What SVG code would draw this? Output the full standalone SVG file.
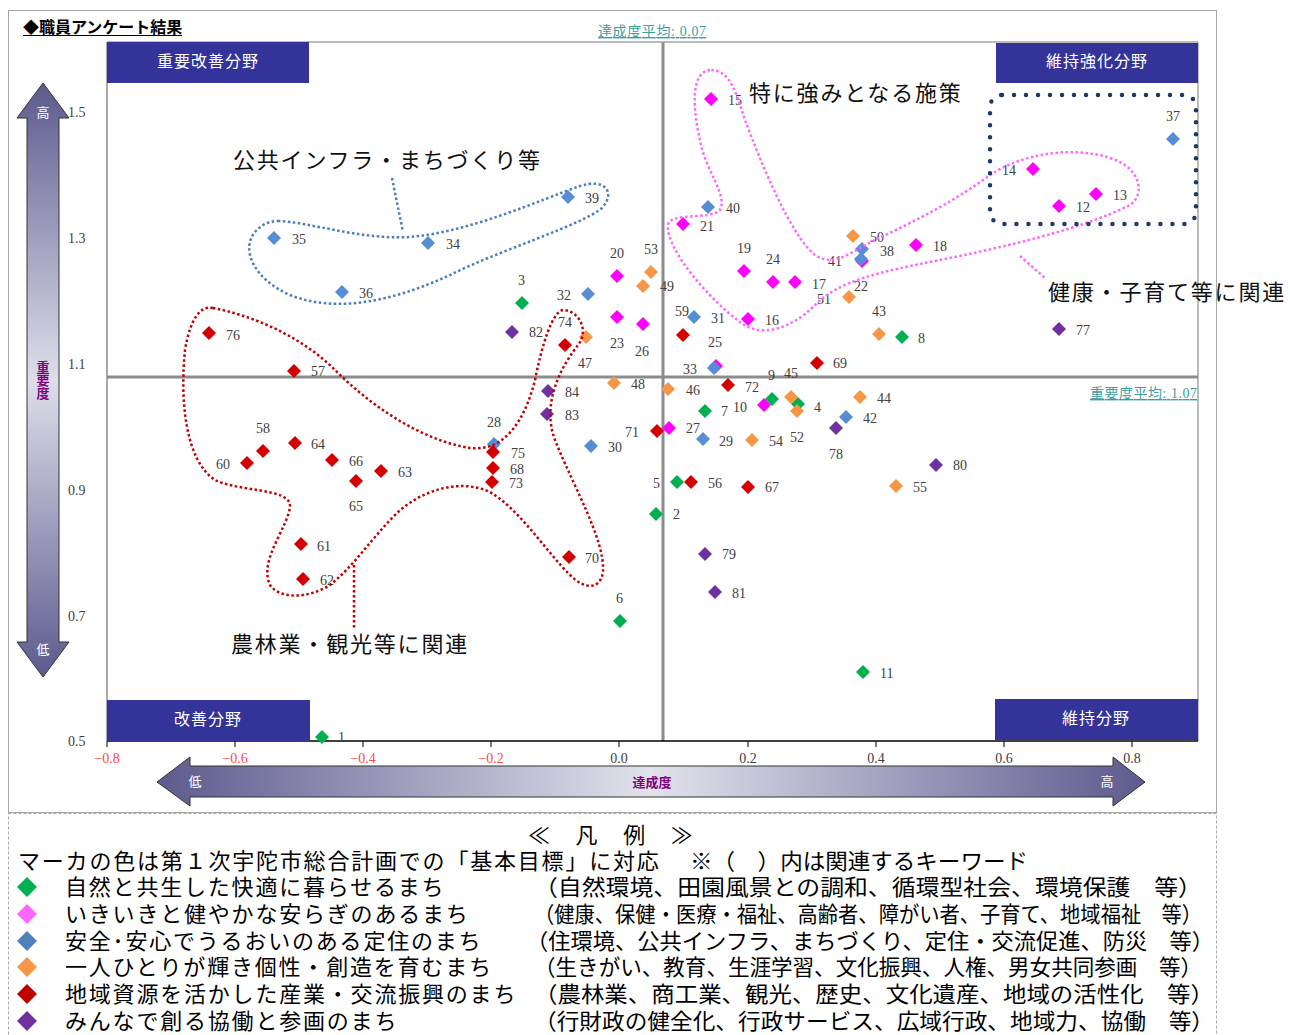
<svg xmlns="http://www.w3.org/2000/svg" xmlns:xlink="http://www.w3.org/1999/xlink" width="1290" height="1035" viewBox="0 0 1290 1035">
<defs>
<path id="d" d="M0,-7 L7,0 L0,7 L-7,0Z"/>
<path id="D" d="M0,-10 L10,0 L0,10 L-10,0Z"/>
<linearGradient id="gv" x1="0" y1="83" x2="0" y2="677" gradientUnits="userSpaceOnUse">
<stop offset="0" stop-color="#5d5a8e"/><stop offset="0.5" stop-color="#dedeea"/><stop offset="1" stop-color="#5d5a8e"/>
</linearGradient>
<linearGradient id="gh" x1="157" y1="0" x2="1145" y2="0" gradientUnits="userSpaceOnUse">
<stop offset="0" stop-color="#5d5a8e"/><stop offset="0.5" stop-color="#e2e2ec"/><stop offset="1" stop-color="#5d5a8e"/>
</linearGradient>
</defs>
<style>
.g{fill:#00b050}.m{fill:#ff00ff}.b{fill:#558ed5}.o{fill:#f79646}.r{fill:#d40000}.p{fill:#7030a0}
.lb{font-family:"Liberation Serif",serif;font-size:14px;fill:#404040}
.tk{font-family:"Liberation Serif",serif;font-size:14px;fill:#404040}
.tn{font-family:"Liberation Serif",serif;font-size:14px;fill:#ff4a4a}
.jp{font-family:"Noto Sans CJK JP","Noto Sans",sans-serif}
.ann{font-family:"Noto Sans CJK JP",sans-serif;font-size:22px;letter-spacing:1.8px;fill:#111}
.qb{fill:#333399}
.qt{font-family:"Noto Sans CJK JP",sans-serif;font-size:16px;fill:#fff;letter-spacing:1px;text-anchor:middle}
.avg{font-family:"Liberation Serif","Noto Sans CJK JP",serif;font-size:14px;fill:#3a9f9f;text-decoration:underline}
.lg{font-family:"Noto Sans CJK JP",sans-serif;font-size:22px;letter-spacing:1.8px;fill:#000}
.lk{font-family:"Noto Sans CJK JP",sans-serif;font-size:22px;fill:#000}
.dot{fill:none;stroke-width:2.5;stroke-dasharray:2.5 2.5}
</style>
<rect width="1290" height="1035" fill="#fff"/>
<!-- frames -->
<rect x="8.5" y="10.5" width="1208" height="802" fill="none" stroke="#a6a6a6" stroke-width="1"/>
<rect x="8.5" y="813.5" width="1208" height="240" fill="none" stroke="#a6a6a6" stroke-width="1" stroke-dasharray="3 2"/>
<text x="23" y="33" class="jp" font-size="16" font-weight="bold" fill="#000">◆職員アンケート結果</text>
<line x1="23" y1="35.5" x2="182" y2="35.5" stroke="#000" stroke-width="1.2"/>
<!-- plot area -->
<g id="plot">
<line x1="107" y1="42" x2="1198" y2="42" stroke="#a6a6a6" stroke-width="1.5"/>
<line x1="1198" y1="42" x2="1198" y2="741" stroke="#a6a6a6" stroke-width="1.5"/>
<line x1="107" y1="42" x2="107" y2="741" stroke="#8c8c8c" stroke-width="1.5"/>
<line x1="107" y1="377" x2="1198" y2="377" stroke="#8c8c8c" stroke-width="3"/>
<line x1="663" y1="42" x2="663" y2="741" stroke="#8c8c8c" stroke-width="3"/>
<line x1="107" y1="741" x2="1198" y2="741" stroke="#000" stroke-width="1.5"/>
<path d="M107,741v6M235,741v6M363,741v6M491,741v6M619,741v6M748,741v6M876,741v6M1004,741v6M1132,741v6" stroke="#000" stroke-width="1"/>
</g>
<g id="yticks" class="tk">
<text x="68" y="117">1.5</text><text x="68" y="243">1.3</text><text x="68" y="369">1.1</text>
<text x="68" y="495">0.9</text><text x="68" y="621">0.7</text><text x="68" y="746">0.5</text>
</g>
<g id="xticks" text-anchor="middle">
<text class="tn" x="107" y="763">−0.8</text><text class="tn" x="235" y="763">−0.6</text><text class="tn" x="363" y="763">−0.4</text><text class="tn" x="491" y="763">−0.2</text>
<text class="tk" x="619" y="763">0.0</text><text class="tk" x="748" y="763">0.2</text><text class="tk" x="876" y="763">0.4</text><text class="tk" x="1004" y="763">0.6</text><text class="tk" x="1132" y="763">0.8</text>
</g>
<text class="avg" x="598" y="36" textLength="108" lengthAdjust="spacing">達成度平均: 0.07</text>
<text class="avg" x="1090" y="398" textLength="107" lengthAdjust="spacing">重要度平均: 1.07</text>
<!-- arrows -->
<g id="arrowV">
<polygon points="43,83 69,118 59,118 59,642 69,642 43,677 17,642 27,642 27,118 17,118" fill="url(#gv)" stroke="#333" stroke-width="1"/>
<text x="43" y="117" class="jp" font-size="13" fill="#fff" text-anchor="middle">高</text>
<text x="43" y="654" class="jp" font-size="13" fill="#fff" text-anchor="middle">低</text>
<text x="43" y="380" class="jp" font-size="13" font-weight="bold" fill="#800080" text-anchor="middle" style="writing-mode:vertical-rl">重要度</text>
</g>
<g id="arrowH">
<polygon points="157,782 190,757 190,766 1113,766 1113,757 1145,782 1113,806 1113,797 190,797 190,806" fill="url(#gh)" stroke="#333" stroke-width="1"/>
<text x="195" y="786" class="jp" font-size="13" fill="#fff" text-anchor="middle">低</text>
<text x="1107" y="786" class="jp" font-size="13" fill="#fff" text-anchor="middle">高</text>
<text x="652" y="787" class="jp" font-size="13" font-weight="bold" fill="#800080" text-anchor="middle">達成度</text>
</g>
<!-- quadrant boxes -->
<g id="q1"><rect class="qb" x="107" y="42" width="202" height="41"/><text class="qt" x="208" y="67">重要改善分野</text></g>
<g id="q2"><rect class="qb" x="996" y="43" width="202" height="40"/><text class="qt" x="1097" y="67">維持強化分野</text></g>
<g id="q3"><rect class="qb" x="107" y="700" width="203" height="41"/><text class="qt" x="208" y="725">改善分野</text></g>
<g id="q4"><rect class="qb" x="995" y="699" width="203" height="41"/><text class="qt" x="1096" y="724">維持分野</text></g>
<!-- points -->
<g id="points">
<g id="p1"><use href="#d" x="322" y="737" class="g"/><text class="lb" x="338" y="742">1</text></g>
<g id="p2"><use href="#d" x="656" y="514" class="g"/><text class="lb" x="673" y="519">2</text></g>
<g id="p3"><use href="#d" x="522" y="303" class="g"/><text class="lb" x="518" y="285">3</text></g>
<g id="p4"><use href="#d" x="798" y="404" class="g"/><text class="lb" x="814" y="412">4</text></g>
<g id="p5"><use href="#d" x="677" y="482" class="g"/><text class="lb" x="653" y="488">5</text></g>
<g id="p6"><use href="#d" x="620" y="621" class="g"/><text class="lb" x="616" y="603">6</text></g>
<g id="p7"><use href="#d" x="705" y="411" class="g"/><text class="lb" x="721" y="416">7</text></g>
<g id="p8"><use href="#d" x="902" y="337" class="g"/><text class="lb" x="918" y="343">8</text></g>
<g id="p9"><use href="#d" x="772" y="399" class="g"/><text class="lb" x="768" y="380">9</text></g>
<g id="p11"><use href="#d" x="863" y="672" class="g"/><text class="lb" x="880" y="678">11</text></g>
<g id="p10"><use href="#d" x="764" y="405" class="m"/><text class="lb" x="733" y="412">10</text></g>
<g id="p12"><use href="#d" x="1059" y="206" class="m"/><text class="lb" x="1076" y="212">12</text></g>
<g id="p13"><use href="#d" x="1096" y="194" class="m"/><text class="lb" x="1113" y="200">13</text></g>
<g id="p14"><use href="#d" x="1033" y="169" class="m"/><text class="lb" x="1002" y="175">14</text></g>
<g id="p15"><use href="#d" x="711" y="99" class="m"/><text class="lb" x="728" y="105">15</text></g>
<g id="p16"><use href="#d" x="748" y="319" class="m"/><text class="lb" x="765" y="325">16</text></g>
<g id="p17"><use href="#d" x="795" y="282" class="m"/><text class="lb" x="812" y="289">17</text></g>
<g id="p18"><use href="#d" x="916" y="245" class="m"/><text class="lb" x="933" y="251">18</text></g>
<g id="p19"><use href="#d" x="744" y="271" class="m"/><text class="lb" x="737" y="253">19</text></g>
<g id="p20"><use href="#d" x="617" y="276" class="m"/><text class="lb" x="610" y="258">20</text></g>
<g id="p21"><use href="#d" x="683" y="224" class="m"/><text class="lb" x="700" y="231">21</text></g>
<g id="p22"><use href="#d" x="862" y="261" class="m"/><text class="lb" x="854" y="291">22</text></g>
<g id="p23"><use href="#d" x="617" y="317" class="m"/><text class="lb" x="610" y="348">23</text></g>
<g id="p24"><use href="#d" x="773" y="282" class="m"/><text class="lb" x="766" y="264">24</text></g>
<g id="p25"><use href="#d" x="716" y="366" class="m"/><text class="lb" x="708" y="347">25</text></g>
<g id="p26"><use href="#d" x="643" y="324" class="m"/><text class="lb" x="635" y="356">26</text></g>
<g id="p27"><use href="#d" x="669" y="428" class="m"/><text class="lb" x="686" y="433">27</text></g>
<g id="p28"><use href="#d" x="494" y="444" class="b"/><text class="lb" x="487" y="427">28</text></g>
<g id="p29"><use href="#d" x="703" y="439" class="b"/><text class="lb" x="719" y="446">29</text></g>
<g id="p30"><use href="#d" x="591" y="446" class="b"/><text class="lb" x="608" y="452">30</text></g>
<g id="p31"><use href="#d" x="694" y="317" class="b"/><text class="lb" x="711" y="323">31</text></g>
<g id="p32"><use href="#d" x="588" y="294" class="b"/><text class="lb" x="557" y="300">32</text></g>
<g id="p33"><use href="#d" x="714" y="368" class="b"/><text class="lb" x="683" y="374">33</text></g>
<g id="p34"><use href="#d" x="428" y="243" class="b"/><text class="lb" x="446" y="249">34</text></g>
<g id="p35"><use href="#d" x="274" y="238" class="b"/><text class="lb" x="292" y="244">35</text></g>
<g id="p36"><use href="#d" x="342" y="292" class="b"/><text class="lb" x="359" y="298">36</text></g>
<g id="p37"><use href="#d" x="1173" y="139" class="b"/><text class="lb" x="1166" y="121">37</text></g>
<g id="p38"><use href="#d" x="862" y="249" class="b"/><text class="lb" x="880" y="256">38</text></g>
<g id="p39"><use href="#d" x="568" y="197" class="b"/><text class="lb" x="585" y="203">39</text></g>
<g id="p40"><use href="#d" x="708" y="207" class="b"/><text class="lb" x="726" y="213">40</text></g>
<g id="p41"><use href="#d" x="861" y="259" class="b"/><text class="lb" x="828" y="266">41</text></g>
<g id="p42"><use href="#d" x="846" y="417" class="b"/><text class="lb" x="863" y="423">42</text></g>
<g id="p43"><use href="#d" x="879" y="334" class="o"/><text class="lb" x="872" y="316">43</text></g>
<g id="p44"><use href="#d" x="860" y="397" class="o"/><text class="lb" x="877" y="403">44</text></g>
<g id="p45"><use href="#d" x="791" y="397" class="o"/><text class="lb" x="784" y="378">45</text></g>
<g id="p46"><use href="#d" x="668" y="389" class="o"/><text class="lb" x="686" y="395">46</text></g>
<g id="p47"><use href="#d" x="586" y="337" class="o"/><text class="lb" x="578" y="368">47</text></g>
<g id="p48"><use href="#d" x="614" y="383" class="o"/><text class="lb" x="631" y="389">48</text></g>
<g id="p49"><use href="#d" x="643" y="286" class="o"/><text class="lb" x="660" y="291">49</text></g>
<g id="p50"><use href="#d" x="853" y="236" class="o"/><text class="lb" x="870" y="242">50</text></g>
<g id="p51"><use href="#d" x="849" y="297" class="o"/><text class="lb" x="817" y="304">51</text></g>
<g id="p52"><use href="#d" x="797" y="411" class="o"/><text class="lb" x="790" y="442">52</text></g>
<g id="p53"><use href="#d" x="651" y="272" class="o"/><text class="lb" x="644" y="254">53</text></g>
<g id="p54"><use href="#d" x="752" y="440" class="o"/><text class="lb" x="769" y="446">54</text></g>
<g id="p55"><use href="#d" x="896" y="486" class="o"/><text class="lb" x="913" y="492">55</text></g>
<g id="p56"><use href="#d" x="691" y="482" class="r"/><text class="lb" x="708" y="488">56</text></g>
<g id="p57"><use href="#d" x="294" y="371" class="r"/><text class="lb" x="311" y="376">57</text></g>
<g id="p58"><use href="#d" x="263" y="451" class="r"/><text class="lb" x="256" y="433">58</text></g>
<g id="p59"><use href="#d" x="683" y="335" class="r"/><text class="lb" x="675" y="316">59</text></g>
<g id="p60"><use href="#d" x="247" y="463" class="r"/><text class="lb" x="216" y="469">60</text></g>
<g id="p61"><use href="#d" x="301" y="544" class="r"/><text class="lb" x="317" y="551">61</text></g>
<g id="p62"><use href="#d" x="303" y="579" class="r"/><text class="lb" x="320" y="585">62</text></g>
<g id="p63"><use href="#d" x="381" y="471" class="r"/><text class="lb" x="398" y="477">63</text></g>
<g id="p64"><use href="#d" x="295" y="443" class="r"/><text class="lb" x="311" y="449">64</text></g>
<g id="p65"><use href="#d" x="356" y="481" class="r"/><text class="lb" x="349" y="511">65</text></g>
<g id="p66"><use href="#d" x="332" y="460" class="r"/><text class="lb" x="349" y="466">66</text></g>
<g id="p67"><use href="#d" x="748" y="487" class="r"/><text class="lb" x="765" y="492">67</text></g>
<g id="p68"><use href="#d" x="493" y="468" class="r"/><text class="lb" x="510" y="474">68</text></g>
<g id="p69"><use href="#d" x="817" y="363" class="r"/><text class="lb" x="833" y="368">69</text></g>
<g id="p70"><use href="#d" x="569" y="557" class="r"/><text class="lb" x="585" y="563">70</text></g>
<g id="p71"><use href="#d" x="657" y="431" class="r"/><text class="lb" x="625" y="437">71</text></g>
<g id="p72"><use href="#d" x="728" y="385" class="r"/><text class="lb" x="745" y="392">72</text></g>
<g id="p73"><use href="#d" x="492" y="482" class="r"/><text class="lb" x="509" y="488">73</text></g>
<g id="p74"><use href="#d" x="565" y="345" class="r"/><text class="lb" x="558" y="327">74</text></g>
<g id="p75"><use href="#d" x="493" y="452" class="r"/><text class="lb" x="511" y="458">75</text></g>
<g id="p76"><use href="#d" x="209" y="333" class="r"/><text class="lb" x="226" y="340">76</text></g>
<g id="p77"><use href="#d" x="1059" y="329" class="p"/><text class="lb" x="1076" y="335">77</text></g>
<g id="p78"><use href="#d" x="836" y="428" class="p"/><text class="lb" x="829" y="459">78</text></g>
<g id="p79"><use href="#d" x="705" y="554" class="p"/><text class="lb" x="722" y="559">79</text></g>
<g id="p80"><use href="#d" x="936" y="465" class="p"/><text class="lb" x="953" y="470">80</text></g>
<g id="p81"><use href="#d" x="715" y="592" class="p"/><text class="lb" x="732" y="598">81</text></g>
<g id="p82"><use href="#d" x="512" y="332" class="p"/><text class="lb" x="529" y="337">82</text></g>
<g id="p83"><use href="#d" x="547" y="414" class="p"/><text class="lb" x="565" y="420">83</text></g>
<g id="p84"><use href="#d" x="548" y="391" class="p"/><text class="lb" x="565" y="397">84</text></g>
</g>
<!-- annotation loops and connectors -->
<g id="connectors">
<path class="dot" stroke="#4a7ebb" d="M278,221 C310,222 360,240 410,237 C470,232 540,200 580,186 C605,178 616,192 602,208 C580,226 500,250 450,275 C400,298 340,315 290,295 C255,280 240,250 255,232 C262,224 270,221 278,221 Z"/>
<path class="dot" stroke="#4a7ebb" d="M392,178 L403,232"/>
<path class="dot" stroke="#ff66ff" d="M710,70 C690,72 693,110 700,140 C705,170 728,195 720,210 C712,220 670,212 668,225 C666,250 710,300 740,322 C760,338 790,330 815,305 C840,280 880,272 940,260 C1000,248 1080,230 1130,205 C1145,195 1142,168 1110,158 C1070,145 1020,155 990,175 C950,205 900,228 875,240 C850,252 835,268 815,255 C790,235 760,160 745,120 C735,90 730,70 710,70 Z"/>
<path class="dot" stroke="#ff66ff" d="M1020,256 L1045,278"/>
<path class="dot" stroke="#c00000" d="M213,308 C250,315 300,335 335,370 C370,405 420,440 470,448 C505,452 525,420 535,380 C542,345 552,312 563,310 C578,310 590,330 578,345 C565,362 540,400 555,440 C575,490 605,540 603,572 C600,590 585,590 570,575 C545,550 520,510 490,492 C460,478 420,490 395,515 C370,540 355,565 330,585 C310,598 280,600 270,585 C258,560 290,525 290,505 C288,488 240,492 215,480 C185,460 180,400 185,350 C190,320 200,305 213,308 Z"/>
<path class="dot" stroke="#c00000" d="M354,565 L354,628"/>
<rect x="990" y="95" width="206" height="129" rx="12" fill="none" stroke="#1f3864" stroke-width="4.5" stroke-linecap="round" stroke-dasharray="0 12"/>
</g>
<g id="annotations">
<text class="ann" x="233" y="168">公共インフラ・まちづくり等</text>
<text class="ann" x="749" y="101">特に強みとなる施策</text>
<text class="ann" x="1048" y="300">健康・子育て等に関連</text>
<text class="ann" x="231" y="652">農林業・観光等に関連</text>
</g>
<!-- legend -->
<g id="legend">
<text class="lg" x="528" y="843">≪　凡　例　≫</text>
<text class="lg" x="18" y="869">マーカの色は第１次宇陀市総合計画での「基本目標」に対応</text>
<text class="lk" x="690" y="869" textLength="338" lengthAdjust="spacingAndGlyphs">※（　）内は関連するキーワード</text>
<g id="lg1"><use href="#D" x="27" y="887" fill="#00b050"/><text class="lg" x="65" y="895">自然と共生した快適に暮らせるまち</text><text class="lk" x="534" y="895" textLength="668" lengthAdjust="spacingAndGlyphs">（自然環境、田園風景との調和、循環型社会、環境保護　等）</text></g>
<g id="lg2"><use href="#D" x="27" y="914" fill="#ff66ff"/><text class="lg" x="65" y="922">いきいきと健やかな安らぎのあるまち</text><text class="lk" x="534" y="922" textLength="668" lengthAdjust="spacingAndGlyphs">（健康、保健・医療・福祉、高齢者、障がい者、子育て、地域福祉　等）</text></g>
<g id="lg3"><use href="#D" x="27" y="941" fill="#4f81bd"/><text class="lg" x="65" y="949">安全･安心でうるおいのある定住のまち</text><text class="lk" x="526" y="949" textLength="688" lengthAdjust="spacingAndGlyphs">（住環境、公共インフラ、まちづくり、定住・交流促進、防災　等）</text></g>
<g id="lg4"><use href="#D" x="27" y="967" fill="#f79646"/><text class="lg" x="65" y="975">一人ひとりが輝き個性・創造を育むまち</text><text class="lk" x="534" y="975" textLength="668" lengthAdjust="spacingAndGlyphs">（生きがい、教育、生涯学習、文化振興、人権、男女共同参画　等）</text></g>
<g id="lg5"><use href="#D" x="27" y="994" fill="#c00000"/><text class="lg" x="65" y="1002">地域資源を活かした産業・交流振興のまち</text><text class="lk" x="534" y="1002" textLength="680" lengthAdjust="spacingAndGlyphs">（農林業、商工業、観光、歴史、文化遺産、地域の活性化　等）</text></g>
<g id="lg6"><use href="#D" x="27" y="1021" fill="#7030a0"/><text class="lg" x="65" y="1029">みんなで創る協働と参画のまち</text><text class="lk" x="534" y="1029" textLength="680" lengthAdjust="spacingAndGlyphs">（行財政の健全化、行政サービス、広域行政、地域力、協働　等）</text></g>
</g>
</svg>
